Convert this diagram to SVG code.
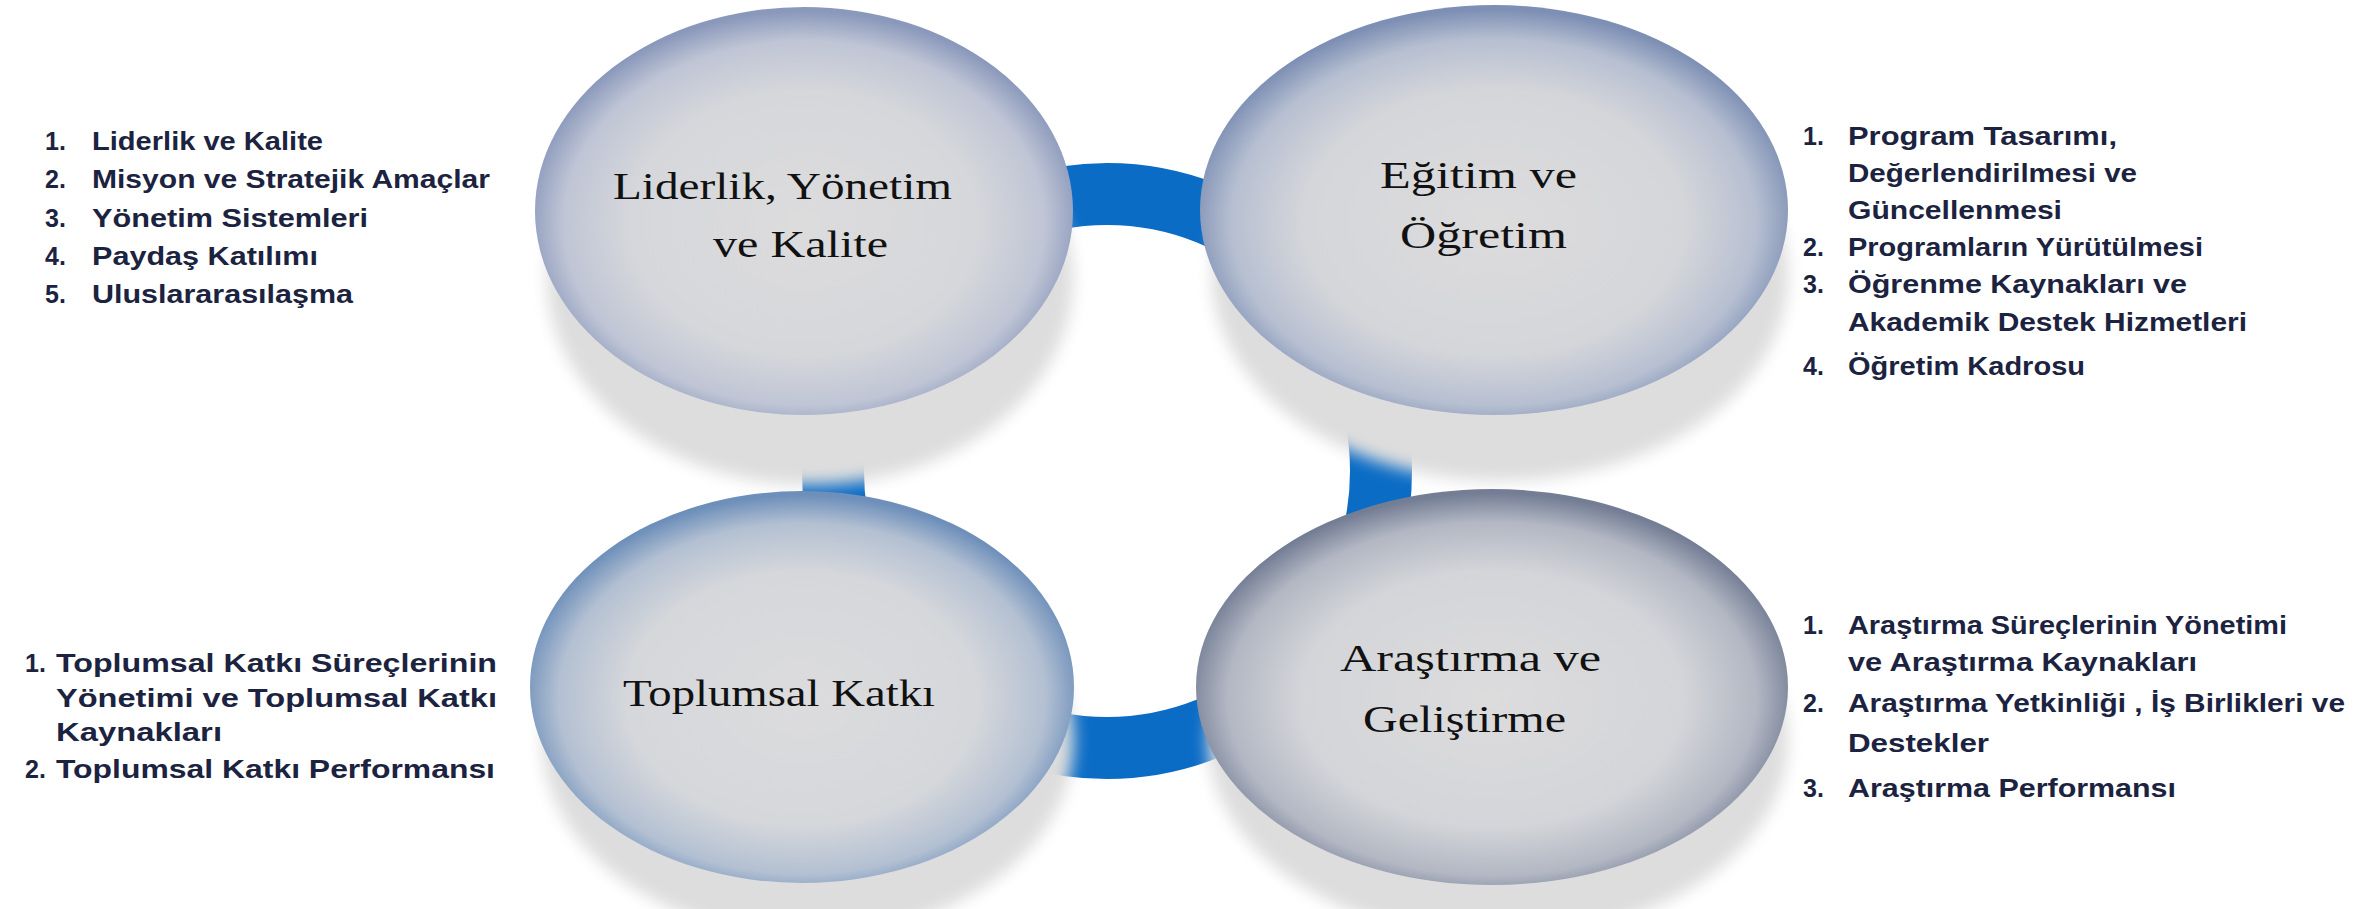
<svg xmlns="http://www.w3.org/2000/svg" width="2361" height="909" viewBox="0 0 2361 909">
<style>
.lst{font-family:"Liberation Sans",Arial,sans-serif;font-weight:bold;font-size:25px;fill:#1c2340}
.lbl{font-family:"Liberation Serif","Times New Roman",serif;font-size:38px;fill:#111111}
.shadow{fill:#dddddd;filter:url(#blur)}
.ring{fill:none;stroke:#0b6cc6;stroke-width:62}
</style>
<defs>
<filter id="blur" x="-20%" y="-30%" width="140%" height="160%"><feGaussianBlur stdDeviation="8"/></filter>
<radialGradient id="gTL" cx="50%" cy="53%" r="52%">
<stop offset="0" stop-color="#dcdcdd"/><stop offset="0.62" stop-color="#d6d7db"/><stop offset="0.86" stop-color="#bfc5d5"/><stop offset="1" stop-color="#8a98bb"/>
</radialGradient>
<radialGradient id="gTR" cx="50%" cy="53%" r="52%">
<stop offset="0" stop-color="#dcdcdd"/><stop offset="0.62" stop-color="#d5d6da"/><stop offset="0.86" stop-color="#b6bfd1"/><stop offset="1" stop-color="#7d8fb4"/>
</radialGradient>
<radialGradient id="gBL" cx="50%" cy="53%" r="52%">
<stop offset="0" stop-color="#dcdcdd"/><stop offset="0.62" stop-color="#d5d7db"/><stop offset="0.86" stop-color="#b3c0d2"/><stop offset="1" stop-color="#6d8fba"/>
</radialGradient>
<radialGradient id="gBR" cx="50%" cy="53%" r="52%">
<stop offset="0" stop-color="#dcdcdd"/><stop offset="0.62" stop-color="#d4d5d9"/><stop offset="0.86" stop-color="#b2b7c3"/><stop offset="1" stop-color="#737d94"/>
</radialGradient>
</defs>
<rect width="2361" height="909" fill="#ffffff"/>

<g id="connectors">
<ellipse class="ring" cx="1107" cy="471" rx="274" ry="277"/>
</g>

<g id="node-liderlik">
<ellipse class="shadow" cx="810" cy="278" rx="263" ry="207"/>
<ellipse cx="804" cy="211" rx="269" ry="204" fill="url(#gTL)"/>
<text class="lbl" x="613" y="199" textLength="339" lengthAdjust="spacingAndGlyphs">Liderlik, Yönetim</text>
<text class="lbl" x="713" y="257" textLength="175" lengthAdjust="spacingAndGlyphs">ve Kalite</text>
</g>

<g id="node-egitim">
<ellipse class="shadow" cx="1500" cy="275" rx="288" ry="206"/>
<ellipse cx="1494" cy="210" rx="294" ry="205" fill="url(#gTR)"/>
<text class="lbl" x="1380" y="188" textLength="197" lengthAdjust="spacingAndGlyphs">Eğitim ve</text>
<text class="lbl" x="1400" y="248" textLength="167" lengthAdjust="spacingAndGlyphs">Öğretim</text>
</g>

<g id="node-toplumsal">
<ellipse class="shadow" cx="808" cy="740" rx="266" ry="196"/>
<ellipse cx="802" cy="687" rx="272" ry="196" fill="url(#gBL)"/>
<text class="lbl" x="623" y="706" textLength="312" lengthAdjust="spacingAndGlyphs">Toplumsal Katkı</text>
</g>

<g id="node-arastirma">
<ellipse class="shadow" cx="1498" cy="740" rx="290" ry="198"/>
<ellipse cx="1492" cy="687" rx="296" ry="198" fill="url(#gBR)"/>
<text class="lbl" x="1340" y="671" textLength="261" lengthAdjust="spacingAndGlyphs">Araştırma ve</text>
<text class="lbl" x="1363" y="732" textLength="203" lengthAdjust="spacingAndGlyphs">Geliştirme</text>
</g>

<g id="list-liderlik" class="lst">
<text x="45" y="150">1.</text><text x="92" y="150" textLength="231" lengthAdjust="spacingAndGlyphs">Liderlik ve Kalite</text>
<text x="45" y="188">2.</text><text x="92" y="188" textLength="398" lengthAdjust="spacingAndGlyphs">Misyon ve Stratejik Amaçlar</text>
<text x="45" y="227">3.</text><text x="92" y="227" textLength="276" lengthAdjust="spacingAndGlyphs">Yönetim Sistemleri</text>
<text x="45" y="265">4.</text><text x="92" y="265" textLength="226" lengthAdjust="spacingAndGlyphs">Paydaş Katılımı</text>
<text x="45" y="303">5.</text><text x="92" y="303" textLength="261" lengthAdjust="spacingAndGlyphs">Uluslararasılaşma</text>
</g>

<g id="list-egitim" class="lst">
<text x="1803" y="145">1.</text><text x="1848" y="145" textLength="269" lengthAdjust="spacingAndGlyphs">Program Tasarımı,</text>
<text x="1848" y="182" textLength="289" lengthAdjust="spacingAndGlyphs">Değerlendirilmesi ve</text>
<text x="1848" y="219" textLength="214" lengthAdjust="spacingAndGlyphs">Güncellenmesi</text>
<text x="1803" y="256">2.</text><text x="1848" y="256" textLength="355" lengthAdjust="spacingAndGlyphs">Programların Yürütülmesi</text>
<text x="1803" y="293">3.</text><text x="1848" y="293" textLength="339" lengthAdjust="spacingAndGlyphs">Öğrenme Kaynakları ve</text>
<text x="1848" y="331" textLength="399" lengthAdjust="spacingAndGlyphs">Akademik Destek Hizmetleri</text>
<text x="1803" y="375">4.</text><text x="1848" y="375" textLength="237" lengthAdjust="spacingAndGlyphs">Öğretim Kadrosu</text>
</g>

<g id="list-toplumsal" class="lst">
<text x="25" y="672">1.</text><text x="56" y="672" textLength="441" lengthAdjust="spacingAndGlyphs">Toplumsal Katkı Süreçlerinin</text>
<text x="56" y="707" textLength="441" lengthAdjust="spacingAndGlyphs">Yönetimi ve Toplumsal Katkı</text>
<text x="56" y="741" textLength="166" lengthAdjust="spacingAndGlyphs">Kaynakları</text>
<text x="25" y="778">2.</text><text x="56" y="778" textLength="439" lengthAdjust="spacingAndGlyphs">Toplumsal Katkı Performansı</text>
</g>

<g id="list-arastirma" class="lst">
<text x="1803" y="634">1.</text><text x="1848" y="634" textLength="439" lengthAdjust="spacingAndGlyphs">Araştırma Süreçlerinin Yönetimi</text>
<text x="1848" y="671" textLength="349" lengthAdjust="spacingAndGlyphs">ve Araştırma Kaynakları</text>
<text x="1803" y="712">2.</text><text x="1848" y="712" textLength="497" lengthAdjust="spacingAndGlyphs">Araştırma Yetkinliği , İş Birlikleri ve</text>
<text x="1848" y="752" textLength="141" lengthAdjust="spacingAndGlyphs">Destekler</text>
<text x="1803" y="797">3.</text><text x="1848" y="797" textLength="328" lengthAdjust="spacingAndGlyphs">Araştırma Performansı</text>
</g>
</svg>
